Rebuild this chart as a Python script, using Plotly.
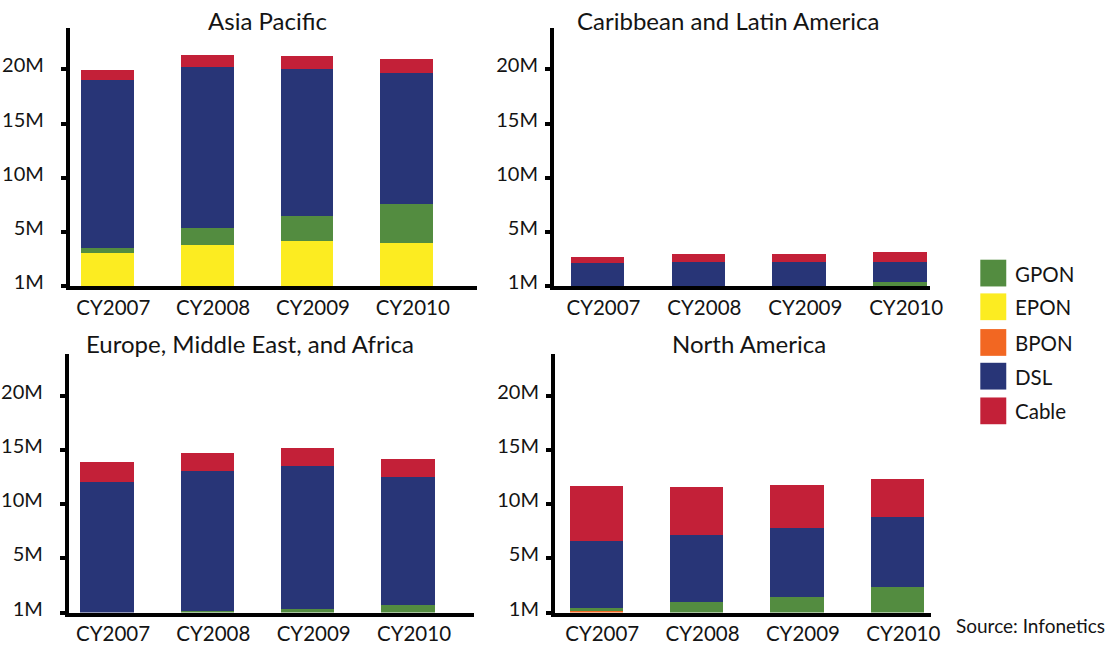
import plotly.graph_objects as go

W, H = 1120, 645

years = ["CY2007", "CY2008", "CY2009", "CY2010"]
regions = ["Asia Pacific", "Caribbean and Latin America",
           "Europe, Middle East, and Africa", "North America"]
series_names = ["BPON", "EPON", "GPON", "DSL", "Cable"]     # stacking order, bottom-up
legend_order = ["GPON", "EPON", "BPON", "DSL", "Cable"]     # legend order, top-down
colors = {"GPON": "#538C40", "EPON": "#FCEC21", "BPON": "#F26722",
          "DSL": "#283577", "Cable": "#C32038"}

# the reference labels its baseline "1M"
ytick_vals = [0, 5e6, 10e6, 15e6, 20e6]
ytick_text = ["1M", "5M", "10M", "15M", "20M"]

# values in millions of subscribers
apac_bpon = [0, 0, 0, 0]
apac_epon = [3.12, 3.85, 4.21, 4.03]
apac_gpon = [0.46, 1.54, 2.27, 3.55]
apac_dsl = [15.45, 14.82, 13.55, 12.09]
apac_cable = [0.91, 1.09, 1.18, 1.27]

cala_bpon = [0, 0, 0, 0]
cala_epon = [0, 0, 0, 0]
cala_gpon = [0, 0, 0, 0.40]
cala_dsl = [2.15, 2.21, 2.21, 1.90]
cala_cable = [0.52, 0.82, 0.82, 0.91]

emea_bpon = [0, 0, 0, 0]
emea_epon = [0, 0, 0, 0]
emea_gpon = [0, 0.15, 0.35, 0.72]
emea_dsl = [12.03, 12.88, 13.13, 11.76]
emea_cable = [1.82, 1.64, 1.73, 1.64]

na_bpon = [0.22, 0, 0, 0]
na_epon = [0, 0, 0, 0]
na_gpon = [0.16, 0.97, 1.48, 2.39]
na_dsl = [6.20, 6.15, 6.28, 6.46]
na_cable = [5.09, 4.46, 4.00, 3.45]

region_data = {
    "Asia Pacific": [apac_bpon, apac_epon, apac_gpon, apac_dsl, apac_cable],
    "Caribbean and Latin America": [cala_bpon, cala_epon, cala_gpon, cala_dsl, cala_cable],
    "Europe, Middle East, and Africa": [emea_bpon, emea_epon, emea_gpon, emea_dsl, emea_cable],
    "North America": [na_bpon, na_epon, na_gpon, na_dsl, na_cable],
}

FONT = "Lato"
TXT = "#141414"
K = 1.01  # small layout stretch

def fx(p):
    return min(1.0, p * K / W)

def fy(p):
    return max(0.0, 1 - p * K / H)

# panel layout in pixels: (x0, x1, ytop, ybottom, xrange, title cx, title cy, label standoff)
panels = [
    (70, 478, 28, 289, [-0.375, 3.705], 268, 21, 13),
    (555, 932, 28, 289, [-0.43, 3.30], 730, 21, 3),
    (69, 475, 357, 618, [-0.38, 3.66], 250, 347, 13),
    (556, 933, 357, 618, [-0.41, 3.34], 750, 347, 3),
]
yrange = [0, 23.84e6]
xlabel_offset = 0.06  # labels sit slightly right of bar centres in the reference

fig = go.Figure()
layout = dict(
    width=W, height=H, margin=dict(l=0, r=0, t=0, b=0),
    paper_bgcolor="white", plot_bgcolor="white",
    barmode="stack", showlegend=False,
    font=dict(family=FONT, color=TXT),
    annotations=[], shapes=[],
)

for i, region in enumerate(regions):
    x0, x1, yt, yb, xr, tcx, tcy, stand = panels[i]
    sfx = "" if i == 0 else str(i + 1)
    for name, vals in zip(series_names, region_data[region]):
        fig.add_trace(go.Bar(
            x=years, y=[v * 1e6 for v in vals], name=name,
            marker=dict(color=colors[name], line=dict(width=0)),
            width=0.53, xaxis="x" + sfx, yaxis="y" + sfx,
        ))
    layout["xaxis" + sfx] = dict(
        domain=[fx(x0), fx(x1)], anchor="y" + sfx, type="category",
        categoryorder="array", categoryarray=years,
        range=xr, showline=True, linewidth=4, linecolor="black",
        tickmode="array", tickvals=[k + xlabel_offset for k in range(len(years))],
        ticktext=years,
        ticks="", showgrid=False, zeroline=False,
        tickfont=dict(family=FONT, size=20.5, color=TXT),
    )
    layout["yaxis" + sfx] = dict(
        domain=[fy(yb), fy(yt)], anchor="x" + sfx, range=yrange,
        showline=True, linewidth=4, linecolor="black",
        tickvals=ytick_vals, ticktext=ytick_text,
        ticks="outside", ticklen=5, tickwidth=4, tickcolor="black",
        ticklabelshift=-4, ticklabelstandoff=stand,
        showgrid=False, zeroline=False,
        tickfont=dict(family=FONT, size=20, color=TXT),
    )
    layout["annotations"].append(dict(
        text=region, x=fx(tcx), y=fy(tcy), xref="paper", yref="paper",
        xanchor="center", yanchor="middle", showarrow=False,
        font=dict(family=FONT, size=24, color=TXT),
    ))

# legend (drawn manually so the swatches can be large)
leg_top = [262, 296, 332, 366, 401]
for name, top in zip(legend_order, leg_top):
    layout["shapes"].append(dict(
        type="rect", xref="paper", yref="paper",
        x0=fx(982), x1=fx(1008), y0=fy(top + 27), y1=fy(top),
        fillcolor=colors[name], line=dict(width=0),
    ))
    layout["annotations"].append(dict(
        text=name, x=fx(1015), y=fy(top + 14), xref="paper", yref="paper",
        xanchor="left", yanchor="middle", showarrow=False,
        font=dict(family=FONT, size=20.5, color=TXT),
    ))

layout["annotations"].append(dict(
    text="Source: Infonetics", x=1.0, y=1 - 637 / H, xref="paper", yref="paper",
    xanchor="right", yanchor="middle", showarrow=False,
    font=dict(family=FONT, size=19, color=TXT),
))

fig.update_layout(**layout)
fig.write_html(
    "out.html",
    config={"displayModeBar": False, "responsive": False},
    post_script="document.body.style.margin='0';document.body.style.overflow='hidden';",
)
